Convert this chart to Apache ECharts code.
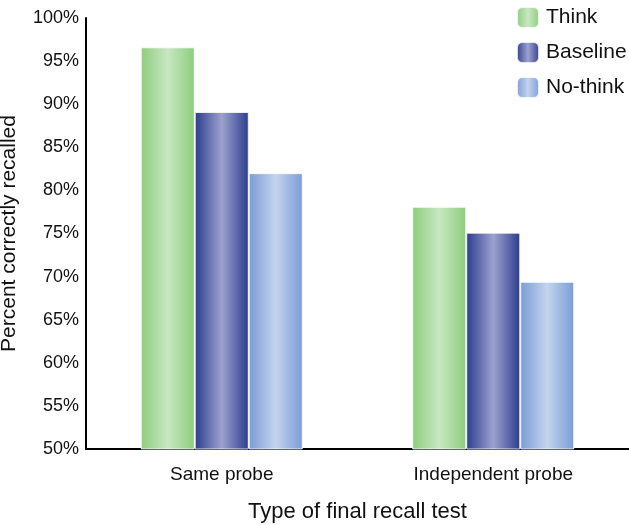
<!DOCTYPE html>
<html><head><meta charset="utf-8">
<script src="https://cdn.jsdelivr.net/npm/echarts@6/dist/echarts.min.js"></script>
<style>html,body{margin:0;padding:0;background:#fff}#c{width:629px;height:525px}</style>
</head><body><div id="c"></div>
<script>
const categories = ['Same probe', 'Independent probe'];
const thinkValues = [96.6, 78.1];
const baselineValues = [89.1, 75.1];
const noThinkValues = [82.0, 69.4];
const yTicks = [50, 55, 60, 65, 70, 75, 80, 85, 90, 95, 100];

function grad(edge, mid) {
  return new echarts.graphic.LinearGradient(0, 0, 1, 0, [
    {offset: 0, color: edge}, {offset: 0.5, color: mid}, {offset: 1, color: edge}
  ]);
}
const font = 'Liberation Sans, Arial, Helvetica, sans-serif';
const chart = echarts.init(document.getElementById('c'));
function mk(name, data, edge, mid) {
  return {name, type: 'bar', data, barWidth: 54, barGap: '0%',
    itemStyle: {color: grad(edge, mid), borderColor: 'rgba(255,255,255,0.8)', borderWidth: 1}};
}
chart.setOption({
  animation: false,
  grid: {left: 86, right: 0, top: 18, bottom: 76, containLabel: false, outerBoundsMode: 'none'},
  legend: {
    top: 1, left: 511, orient: 'vertical', itemWidth: 22, itemHeight: 21, itemGap: 12,
    textStyle: {fontFamily: font, fontSize: 21, color: '#111', padding: [0, 0, 0, 2]},
    data: ['Think', 'Baseline', 'No-think']
  },
  xAxis: {
    type: 'category', data: categories,
    axisLine: {lineStyle: {color: '#000', width: 2}}, axisTick: {show: false},
    axisLabel: {fontFamily: font, fontSize: 19, color: '#111', margin: 16},
    name: 'Type of final recall test', nameLocation: 'middle', nameGap: 52,
    nameTextStyle: {fontFamily: font, fontSize: 22, color: '#111'}
  },
  yAxis: {
    type: 'value', min: 50, max: 100, interval: 5,
    axisLine: {show: true, lineStyle: {color: '#000', width: 2}}, axisTick: {show: false},
    splitLine: {show: false},
    axisLabel: {fontFamily: font, fontSize: 18, color: '#111', margin: 7, formatter: v => yTicks.includes(v) ? v + '%' : ''},
    name: 'Percent correctly recalled', nameLocation: 'middle', nameGap: 66, nameRotate: 90,
    nameTextStyle: {fontFamily: font, fontSize: 21, color: '#111'}
  },
  series: [
    mk('Think', thinkValues, '#8ccd7c', '#c9e7c2'),
    mk('Baseline', baselineValues, '#2c3c8e', '#9ca2cd'),
    mk('No-think', noThinkValues, '#7b9cd6', '#c3d4ee')
  ]
});
</script></body></html>
